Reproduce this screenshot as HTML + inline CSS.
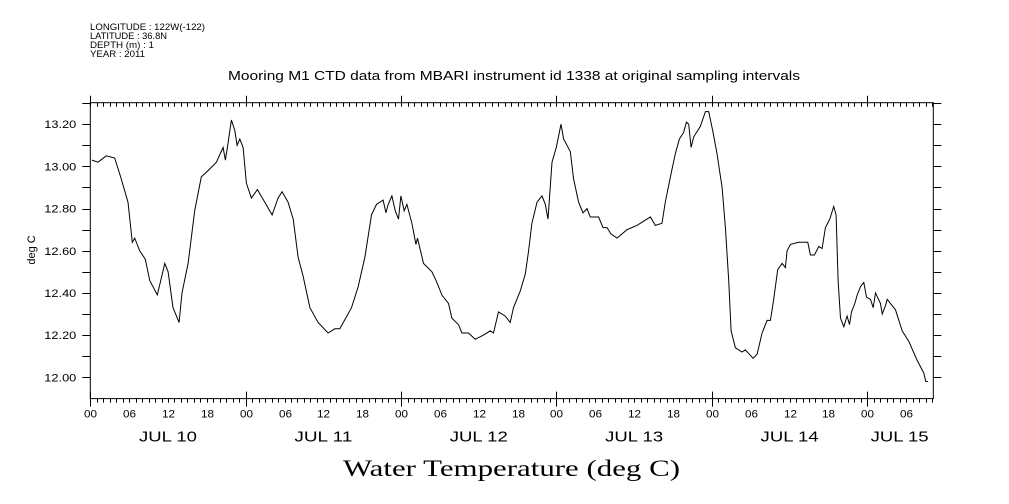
<!DOCTYPE html>
<html><head><meta charset="utf-8"><style>
html,body{margin:0;padding:0;background:#fff;}
svg{display:block;font-family:"Liberation Sans",sans-serif;}
</style></head><body>
<svg id="chart" width="1009" height="504" xmlns="http://www.w3.org/2000/svg">
<g font-size="9" fill="#000">
<text x="90" y="30" textLength="115" lengthAdjust="spacingAndGlyphs">LONGITUDE : 122W(-122)</text>
<text x="90" y="39" textLength="77" lengthAdjust="spacingAndGlyphs">LATITUDE : 36.8N</text>
<text x="90" y="48" textLength="64" lengthAdjust="spacingAndGlyphs">DEPTH (m) : 1</text>
<text x="90" y="57" textLength="55" lengthAdjust="spacingAndGlyphs">YEAR : 2011</text>
</g>
<text x="228" y="80" font-size="13" textLength="572" lengthAdjust="spacingAndGlyphs">Mooring M1 CTD data from MBARI instrument id 1338 at original sampling intervals</text>
<text transform="translate(35,250) rotate(-90)" font-size="11" text-anchor="middle">deg C</text>
<text x="343" y="476" font-size="23" textLength="337" lengthAdjust="spacingAndGlyphs" font-family="Liberation Serif, serif">Water Temperature (deg C)</text>
<g id="axes"></g>
<path id="series" fill="none" stroke="#000" stroke-width="1"/>
</svg>
<script>
const hours=[0.26,1.19,2.47,3.77,4.79,5.83,6.49,6.86,7.63,8.50,9.18,10.35,11.50,12.01,12.78,13.71,14.17,15.10,16.13,17.15,18.19,19.47,20.51,20.86,21.17,21.79,22.32,22.67,23.09,23.60,24.11,24.88,25.81,26.95,28.08,29.01,29.63,30.55,31.33,32.10,32.87,33.91,35.19,36.73,37.77,38.54,40.34,41.37,42.41,43.43,44.20,45.23,45.65,46.01,46.58,47.09,47.60,47.97,48.48,48.90,49.67,50.29,50.53,51.46,52.76,53.53,54.31,55.33,55.85,56.87,57.40,58.42,59.45,60.73,61.77,62.28,63.05,64.09,64.86,65.37,66.41,67.18,67.69,68.21,68.99,69.76,70.27,70.69,71.31,71.97,72.70,73.10,73.62,74.13,74.64,75.42,76.10,76.71,77.22,78.51,79.19,79.80,80.42,81.35,82.89,84.44,85.46,86.50,87.27,88.30,88.81,89.59,90.36,90.98,91.64,92.06,92.42,92.79,93.19,94.23,95.00,95.51,96.19,96.80,97.58,98.09,98.60,98.97,99.63,100.67,101.18,102.37,102.99,103.76,104.53,105.04,105.55,106.17,106.85,107.36,107.62,108.13,109.41,110.19,110.81,111.22,111.84,112.51,113.03,113.54,114.21,114.82,115.19,115.50,115.86,116.37,116.89,117.25,117.56,118.07,118.44,118.95,119.46,119.88,120.50,120.91,121.27,122.04,122.30,122.81,123.08,123.58,124.36,125.40,126.41,127.71,128.73,129.04,129.35];
const temps=[13.03,13.02,13.05,13.04,12.94,12.83,12.64,12.66,12.60,12.56,12.46,12.39,12.54,12.50,12.33,12.26,12.40,12.54,12.79,12.95,12.98,13.02,13.09,13.03,13.09,13.22,13.17,13.10,13.13,13.09,12.92,12.85,12.89,12.83,12.77,12.85,12.88,12.83,12.75,12.57,12.48,12.33,12.26,12.21,12.23,12.23,12.33,12.43,12.57,12.77,12.82,12.84,12.78,12.82,12.86,12.79,12.75,12.86,12.79,12.82,12.73,12.63,12.66,12.54,12.50,12.45,12.39,12.35,12.28,12.25,12.21,12.21,12.18,12.20,12.22,12.21,12.31,12.29,12.26,12.33,12.41,12.49,12.60,12.73,12.83,12.86,12.82,12.75,13.02,13.09,13.20,13.13,13.10,13.07,12.94,12.83,12.78,12.80,12.76,12.76,12.71,12.71,12.68,12.66,12.70,12.72,12.74,12.76,12.72,12.73,12.83,12.95,13.06,13.13,13.16,13.21,13.20,13.09,13.14,13.19,13.26,13.26,13.16,13.06,12.90,12.71,12.46,12.22,12.14,12.12,12.13,12.09,12.11,12.21,12.27,12.27,12.37,12.51,12.54,12.52,12.60,12.63,12.64,12.64,12.64,12.58,12.58,12.62,12.61,12.71,12.75,12.81,12.77,12.46,12.28,12.24,12.29,12.25,12.31,12.35,12.39,12.43,12.45,12.38,12.37,12.33,12.40,12.35,12.30,12.34,12.37,12.35,12.32,12.22,12.17,12.08,12.02,11.98,11.98];
const yTicks=["12.00","12.20","12.40","12.60","12.80","13.00","13.20"];
const hourLabels=["00","06","12","18"];
const dayLabels=["JUL 10","JUL 11","JUL 12","JUL 13","JUL 14","JUL 15"];

const L=90.3,R=933.3,T=102.7,B=398.6;
const X0=0,X1=130.2,Y0=11.899,Y1=13.302;
function xs(h){return L+(h-X0)/(X1-X0)*(R-L);}
function ys(v){return B-(v-Y0)/(Y1-Y0)*(B-T);}
const NS="http://www.w3.org/2000/svg";
const ax=document.getElementById('axes');
function ln(x1,y1,x2,y2,name){const e=document.createElementNS(NS,'line');e.setAttribute('x1',x1);e.setAttribute('y1',y1);e.setAttribute('x2',x2);e.setAttribute('y2',y2);e.setAttribute('stroke','#000');e.setAttribute('stroke-width','1');


ax.appendChild(e);return e;}
function tx(x,y,s,size,anchor,name,len){const e=document.createElementNS(NS,'text');e.setAttribute('x',x);e.setAttribute('y',y);e.setAttribute('font-size',size);e.setAttribute('text-anchor',anchor);e.textContent=s;
if(len){e.setAttribute('textLength',len);e.setAttribute('lengthAdjust','spacingAndGlyphs');}


ax.appendChild(e);return e;}
const fr=document.createElementNS(NS,'rect');
fr.setAttribute('x',L);fr.setAttribute('y',T);fr.setAttribute('width',R-L);fr.setAttribute('height',B-T);fr.setAttribute('fill','none');fr.setAttribute('stroke','#000');


ax.appendChild(fr);
for(let v=12.0;v<=13.301;v+=0.1){const y=Math.round(ys(v))+0.5;ln(L-8,y,L,y,'y-tick');ln(R,y,R+8,y,'y-tick-right');}
yTicks.forEach(s=>{tx(L-14,ys(parseFloat(s))+4,s,11,'end','y-tick-label',32);});
for(let h=0;h<=X1;h++){const x=Math.round(xs(h))+0.5;const maj=h%24===0;
ln(x,T-(maj?7:0),x,T+4,'x-tick-top');ln(x,B-(maj?7:0),x,B+(maj?8:4),'x-tick');
if(h%6===0){tx(x,B+19,hourLabels[(h/6)%4],11,'middle','x-hour-label',13);}}
dayLabels.forEach((s,i)=>{let h=i*24+12;if(h>X1-2)h=i*24+5;tx(xs(h),B+43,s,15,'middle','x-day-label',58);});
let d='';hours.forEach((h,i)=>{d+=(i?'L':'M')+xs(h).toFixed(1)+' '+ys(temps[i]).toFixed(1);});
document.getElementById('series').setAttribute('d',d);
</script>
</body></html>
